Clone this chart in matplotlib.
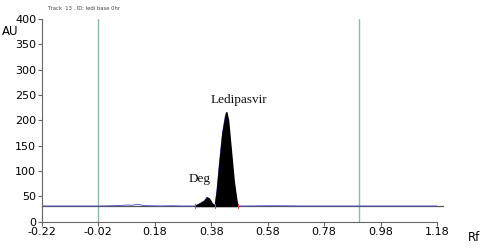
import matplotlib.pyplot as plt
import numpy as np

# densitogram trace
rf = [-0.22, -0.02, 0.03, 0.06, 0.08, 0.10, 0.12, 0.14, 0.16, 0.20, 0.24, 0.28,
      0.31, 0.322, 0.34, 0.355, 0.365, 0.372, 0.383, 0.393, 0.40, 0.41, 0.42,
      0.43, 0.434, 0.44, 0.45, 0.46, 0.47, 0.474, 0.50, 0.60, 0.70, 0.80, 0.905, 1.18]
au = [31, 31, 31.5, 32, 33, 32.5, 34.5, 32, 31.5, 31, 31.5, 31,
      31, 31, 36, 41, 48, 46, 36, 31, 60, 120, 175, 208, 216, 200, 140, 80, 40, 31, 31, 31.5, 31, 31, 31, 31]
baseline = 31
peak_start, peak_end = 0.322, 0.474
boundaries = [0.322, 0.393, 0.474]
x_ticks = [-0.22, -0.02, 0.18, 0.38, 0.58, 0.78, 0.98, 1.18]
y_ticks = [0, 50, 100, 150, 200, 250, 300, 350, 400]
markers_rf = [-0.02, 0.905]

fig = plt.figure(figsize=(4.81, 2.48), dpi=100)
ax = fig.add_axes([0.0867, 0.106, 0.822, 0.817])

rf_a = np.array(rf)
au_a = np.array(au)
ax.plot([-0.22, 1.20], [baseline, baseline], color="#555555", lw=0.9, zorder=1, clip_on=False)
ax.plot(rf_a, au_a, color="#4a4ad0", lw=0.6, zorder=2)
m = (rf_a >= peak_start) & (rf_a <= peak_end)
ax.fill_between(rf_a[m], baseline, au_a[m], color="black", zorder=3)
for b in boundaries:
    ax.plot([b, b], [baseline - 4, baseline + 4], color="#e04040", lw=0.7, zorder=4)
for x in markers_rf:
    ax.axvline(x, color="#8fb8b0", lw=1.0, zorder=0)

ax.text(0.478, 228, "Ledipasvir", ha="center", va="bottom", fontsize=9.5,
        family="Liberation Serif", color="#111111")
ax.text(0.34, 72, "Deg", ha="center", va="bottom", fontsize=9.5,
        family="Liberation Serif", color="#111111")

ax.set_xlim(-0.22, 1.18)
ax.set_ylim(0, 400)
ax.set_xticks(x_ticks)
ax.set_xticklabels(["-0.22", "-0.02", "0.18", "0.38", "0.58", "0.78", "0.98", "1.18"])
ax.set_yticks(y_ticks)
ax.tick_params(labelsize=8, length=3, color="#666666", pad=1)
for s in ["top", "right"]:
    ax.spines[s].set_visible(False)
for s in ["left", "bottom"]:
    ax.spines[s].set_color("#666666")

fig.text(0.005, 0.86, "AU", fontsize=8.5)
fig.text(0.972, 0.03, "Rf", fontsize=8.5)
fig.text(0.175, 0.965, "Track  13 . ID: ledi base 0hr", fontsize=3.8,
         color="#444444", ha="center", va="center")

fig.savefig("out.png", dpi=100)
